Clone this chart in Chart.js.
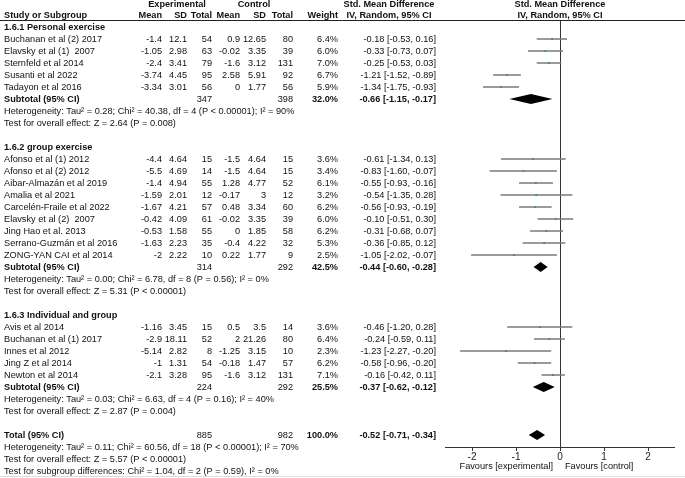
<!DOCTYPE html>
<html>
<head>
<meta charset="utf-8">
<script src="https://cdn.jsdelivr.net/npm/chart.js@4.4.1/dist/chart.umd.min.js"></script>
<style>
  html, body { margin: 0; padding: 0; background: #fff; }
  #wrap { width: 685px; height: 478px; }
</style>
</head>
<body>
<div id="wrap"><canvas id="forest" width="685" height="478"></canvas></div>
<script>
// subgroups
const groupTitles = ['1.6.1 Personal exercise', '1.6.2 group exercise', '1.6.3 Individual and group'];
const groupSizes = [5, 9, 5];

// studies (in display order)
const studies = [
  'Buchanan et al (2) 2017', 'Elavsky et al (1)  2007', 'Sternfeld et al 2014', 'Susanti et al 2022', 'Tadayon et al 2016',
  'Afonso et al (1) 2012', 'Afonso et al (2) 2012', 'Aibar-Almazán et al 2019', 'Amalia et al 2021', 'Carcelén-Fraile et al 2022',
  'Elavsky et al (2)  2007', 'Jing Hao et al. 2013', 'Serrano-Guzmán et al 2016', 'ZONG-YAN CAI et al 2014',
  'Avis et al 2014', 'Buchanan et al (1) 2017', 'Innes et al 2012', 'Jing Z et al 2014', 'Newton et al 2014'
];
const expMean = [-1.4, -1.05, -2.4, -3.74, -3.34, -4.4, -5.5, -1.4, -1.59, -1.67, -0.42, -0.53, -1.63, -2, -1.16, -2.9, -5.14, -1, -2.1];
const expSD   = [12.1, 2.98, 3.41, 4.45, 3.01, 4.64, 4.69, 4.94, 2.01, 4.21, 4.09, 1.58, 2.23, 2.22, 3.45, 18.11, 2.82, 1.31, 3.28];
const expN    = [54, 63, 79, 95, 56, 15, 14, 55, 12, 57, 61, 55, 35, 10, 15, 52, 8, 54, 95];
const ctlMean = [0.9, -0.02, -1.6, 2.58, 0, -1.5, -1.5, 1.28, -0.17, 0.48, -0.02, 0, -0.4, 0.22, 0.5, 2, -1.25, -0.18, -1.6];
const ctlSD   = [12.65, 3.35, 3.12, 5.91, 1.77, 4.64, 4.64, 4.77, 3, 3.34, 3.35, 1.85, 4.22, 1.77, 3.5, 21.26, 3.15, 1.47, 3.12];
const ctlN    = [80, 39, 131, 92, 56, 15, 15, 52, 12, 60, 39, 58, 32, 9, 14, 80, 10, 57, 131];
const weight  = [6.4, 6.0, 7.0, 6.7, 5.9, 3.6, 3.4, 6.1, 3.2, 6.2, 6.0, 6.2, 5.3, 2.5, 3.6, 6.4, 2.3, 6.2, 7.1];
const smd     = [-0.18, -0.33, -0.25, -1.21, -1.34, -0.61, -0.83, -0.55, -0.54, -0.56, -0.10, -0.31, -0.36, -1.05, -0.46, -0.24, -1.23, -0.58, -0.16];
const ciLow   = [-0.53, -0.73, -0.53, -1.52, -1.75, -1.34, -1.60, -0.93, -1.35, -0.93, -0.51, -0.68, -0.85, -2.02, -1.20, -0.59, -2.27, -0.96, -0.42];
const ciHigh  = [0.16, 0.07, 0.03, -0.89, -0.93, 0.13, -0.07, -0.16, 0.28, -0.19, 0.30, 0.07, 0.12, -0.07, 0.28, 0.11, -0.20, -0.20, 0.11];

// subtotals per subgroup
const subExpN   = [347, 314, 224];
const subCtlN   = [398, 292, 292];
const subWeight = [32.0, 42.5, 25.5];
const subSmd    = [-0.66, -0.44, -0.37];
const subLow    = [-1.15, -0.60, -0.62];
const subHigh   = [-0.17, -0.28, -0.12];
const subHet = [
  'Heterogeneity: Tau² = 0.28; Chi² = 40.38, df = 4 (P < 0.00001); I² = 90%',
  'Heterogeneity: Tau² = 0.00; Chi² = 6.78, df = 8 (P = 0.56); I² = 0%',
  'Heterogeneity: Tau² = 0.03; Chi² = 6.63, df = 4 (P = 0.16); I² = 40%'
];
const subTest = [
  'Test for overall effect: Z = 2.64 (P = 0.008)',
  'Test for overall effect: Z = 5.31 (P < 0.00001)',
  'Test for overall effect: Z = 2.87 (P = 0.004)'
];

// overall
const totalExpN = 885, totalCtlN = 982, totalWeight = 100.0;
const totalSmd = -0.52, totalLow = -0.71, totalHigh = -0.34;
const totalNotes = [
  'Heterogeneity: Tau² = 0.11; Chi² = 60.56, df = 18 (P < 0.00001); I² = 70%',
  'Test for overall effect: Z = 5.57 (P < 0.00001)',
  'Test for subgroup differences: Chi² = 1.04, df = 2 (P = 0.59), I² = 0%'
];

const xTicks = [-2, -1, 0, 1, 2];
const favours = ['Favours [experimental]', 'Favours [control]'];

// row layout: one row per line of the table
const studyRow = [];
const groupRow = [], subRow = [];
let r = -1;
let k = 0;
groupSizes.forEach((n, g) => {
  groupRow.push(r++);
  for (let i = 0; i < n; i++) studyRow[k++] = r++;
  subRow.push(r);
  r += 4; // subtotal, heterogeneity, test, blank
});
const totalRow = r;

const FONT = '"Liberation Sans", Arial, sans-serif';
const FSIZE = '9.2px ';
const col = { name: 4, eMean: 162, eSD: 187, eN: 212, cMean: 240, cSD: 266, cN: 293, w: 338, ci: 436, ciMid: 389 };
const fmt = v => v.toFixed(2);
const ciText = (m, l, h) => `${fmt(m)} [${fmt(l)}, ${fmt(h)}]`;

const tablePlugin = {
  id: 'tablePlugin',
  afterDatasetsDraw(chart) {
    const { ctx } = chart;
    const xs = chart.scales.x, ys = chart.scales.y;
    const X = v => xs.getPixelForValue(v);
    const Y = v => ys.getPixelForValue(v);

    // summary diamonds
    ctx.save();
    ctx.fillStyle = '#000';
    const diamond = (m, l, h, row) => {
      const y = Y(row);
      ctx.beginPath();
      ctx.moveTo(X(l), y);
      ctx.lineTo(X(m), y - 5);
      ctx.lineTo(X(h), y);
      ctx.lineTo(X(m), y + 5);
      ctx.closePath();
      ctx.fill();
    };
    subSmd.forEach((m, g) => diamond(m, subLow[g], subHigh[g], subRow[g]));
    diamond(totalSmd, totalLow, totalHigh, totalRow);
    ctx.restore();
  },
  afterDraw(chart) {
    const { ctx, chartArea } = chart;
    const xs = chart.scales.x, ys = chart.scales.y;
    const X = v => xs.getPixelForValue(v);
    const Y = v => ys.getPixelForValue(v);
    ctx.save();
    ctx.fillStyle = '#111';
    ctx.textBaseline = 'middle';
    const t = (s, x, y, align, bold) => {
      ctx.font = (bold ? 'bold ' : '') + FSIZE + FONT;
      ctx.textAlign = align || 'left';
      ctx.fillText(String(s), x, y);
    };

    // header
    const h1 = Y(-2.85), h2 = Y(-2.0);
    t('Experimental', 177, h1, 'center', true);
    t('Control', 254, h1, 'center', true);
    t('Std. Mean Difference', col.ciMid, h1, 'center', true);
    t('Std. Mean Difference', X(0), h1, 'center', true);
    t('Study or Subgroup', col.name, h2, 'left', true);
    t('Mean', col.eMean, h2, 'right', true);
    t('SD', col.eSD, h2, 'right', true);
    t('Total', col.eN, h2, 'right', true);
    t('Mean', col.cMean, h2, 'right', true);
    t('SD', col.cSD, h2, 'right', true);
    t('Total', col.cN, h2, 'right', true);
    t('Weight', col.w, h2, 'right', true);
    t('IV, Random, 95% CI', col.ciMid, h2, 'center', true);
    t('IV, Random, 95% CI', X(0), h2, 'center', true);

    ctx.strokeStyle = '#222';
    ctx.lineWidth = 1;
    ctx.beginPath();
    ctx.moveTo(0, Math.round(chartArea.top) + 0.5);
    ctx.lineTo(chart.width, Math.round(chartArea.top) + 0.5);
    ctx.stroke();

    // groups
    groupTitles.forEach((g, gi) => t(g, col.name, Y(groupRow[gi]), 'left', true));
    studies.forEach((s, i) => {
      const y = Y(studyRow[i]);
      t(s, col.name, y);
      t(expMean[i], col.eMean, y, 'right');
      t(expSD[i], col.eSD, y, 'right');
      t(expN[i], col.eN, y, 'right');
      t(ctlMean[i], col.cMean, y, 'right');
      t(ctlSD[i], col.cSD, y, 'right');
      t(ctlN[i], col.cN, y, 'right');
      t(weight[i].toFixed(1) + '%', col.w, y, 'right');
      t(ciText(smd[i], ciLow[i], ciHigh[i]), col.ci, y, 'right');
    });
    subRow.forEach((row, g) => {
      const y = Y(row);
      t('Subtotal (95% CI)', col.name, y, 'left', true);
      t(subExpN[g], col.eN, y, 'right');
      t(subCtlN[g], col.cN, y, 'right');
      t(subWeight[g].toFixed(1) + '%', col.w, y, 'right', true);
      t(ciText(subSmd[g], subLow[g], subHigh[g]), col.ci, y, 'right', true);
      t(subHet[g], col.name, Y(row + 1));
      t(subTest[g], col.name, Y(row + 2));
    });

    // total
    const ty = Y(totalRow);
    t('Total (95% CI)', col.name, ty, 'left', true);
    t(totalExpN, col.eN, ty, 'right');
    t(totalCtlN, col.cN, ty, 'right');
    t(totalWeight.toFixed(1) + '%', col.w, ty, 'right', true);
    t(ciText(totalSmd, totalLow, totalHigh), col.ci, ty, 'right', true);
    totalNotes.forEach((s, i) => t(s, col.name, Y(totalRow + 1 + i)));

    // favours labels under the axis
    const fy = chartArea.bottom + 19;
    t(favours[0], X(0) - 7, fy, 'right');
    t(favours[1], X(0) + 5, fy, 'left');

    ctx.strokeStyle = '#ddd';
    ctx.beginPath();
    ctx.moveTo(0, chart.height - 1.5);
    ctx.lineTo(chart.width, chart.height - 1.5);
    ctx.stroke();
    ctx.restore();
  }
};

// confidence interval whiskers, one small line per study
const ciSets = studies.map((s, i) => ({
  type: 'scatter',
  label: s,
  data: [{ x: ciLow[i], y: studyRow[i] }, { x: ciHigh[i], y: studyRow[i] }],
  showLine: true,
  borderColor: '#7a7a7a',
  borderWidth: 1.5,
  pointRadius: 0
}));

new Chart(document.getElementById('forest'), {
  type: 'scatter',
  data: {
    datasets: [{
      label: 'Std. Mean Difference',
      data: smd.map((v, i) => ({ x: v, y: studyRow[i] })),
      pointStyle: 'rect',
      pointRadius: 1.3,
      backgroundColor: '#3f9a4a',
      borderWidth: 0
    }, ...ciSets]
  },
  options: {
    responsive: false,
    animation: false,
    layout: { padding: { left: 445.6, right: 10.6, top: 20, bottom: 15 } },
    scales: {
      x: {
        type: 'linear',
        min: -2.6,
        max: 2.6,
        afterBuildTicks: scale => { scale.ticks = xTicks.map(v => ({ value: v })); },
        ticks: { color: '#222', padding: 0, font: { size: 10, family: FONT } },
        grid: {
          color: c => (c.tick && c.tick.value === 0 ? '#333' : 'rgba(0,0,0,0)'),
          tickColor: '#333',
          tickLength: 4,
          lineWidth: 1
        },
        border: { display: true, color: '#333', width: 1 }
      },
      y: {
        type: 'linear',
        reverse: true,
        min: -19 / 12,
        max: 34,
        display: false
      }
    },
    plugins: {
      legend: { display: false },
      tooltip: { enabled: false }
    }
  },
  plugins: [tablePlugin]
});
</script>
</body>
</html>
